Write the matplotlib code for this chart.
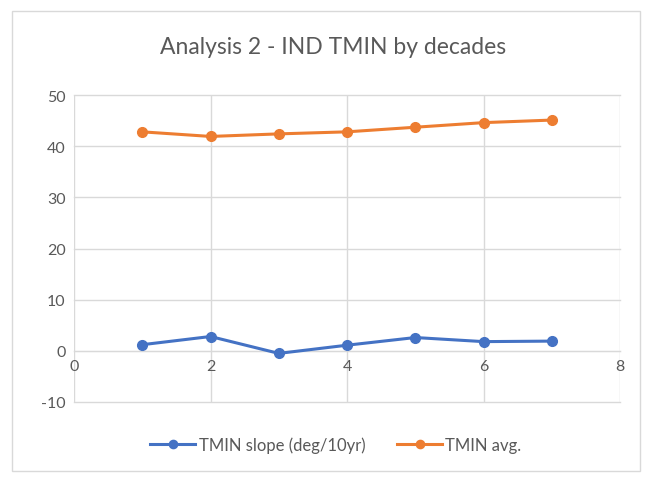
import numpy as np
import matplotlib.pyplot as plt
from matplotlib.patches import Rectangle

# decade index and values
decade = [1, 2, 3, 4, 5, 6, 7]
tmin_slope = [1.2, 2.8, -0.5, 1.1, 2.6, 1.8, 1.9]
tmin_avg = [42.8, 41.9, 42.4, 42.8, 43.7, 44.6, 45.1]

plt.rcParams['font.family'] = ['Lato', 'DejaVu Sans']
plt.rcParams['axes.unicode_minus'] = False

fig = plt.figure(figsize=(6.53, 4.81), dpi=100)
fig.patches.append(Rectangle((12/653, 1-472/481), 628/653, 460/481,
                             transform=fig.transFigure, fill=False,
                             edgecolor='#d9d9d9', linewidth=1))

ax = fig.add_axes([74/653, 1-403/481, 546/653, 307/481])

ax.plot(decade, tmin_slope, color='#4472C4', marker='o', markersize=7,
        linewidth=2.2, label='TMIN slope (deg/10yr)', zorder=3)
ax.plot(decade, tmin_avg, color='#ED7D31', marker='o', markersize=7,
        linewidth=2.2, label='TMIN avg.', zorder=3)

ax.set_xlim(0, 8)
ax.set_ylim(-10, 50)
ax.set_xticks(range(0, 9, 2))
ax.set_yticks(range(-10, 51, 10))
ax.grid(True, color='#d9d9d9', linewidth=1)
ax.set_axisbelow(True)
for gl in ax.get_xgridlines() + ax.get_ygridlines():
    gl.set_clip_on(False)

for s in ['top', 'right', 'left']:
    ax.spines[s].set_visible(False)
ax.spines['bottom'].set_position(('data', 0))
ax.spines['bottom'].set_color('#d9d9d9')
ax.tick_params(length=0, labelsize=11.5, labelcolor='#595959', pad=6)

fig.text(333/653, 1-48/481, 'Analysis 2 - IND TMIN by decades', ha='center',
         va='center', fontsize=16.5, color='#595959')

fig.legend(loc='center', bbox_to_anchor=(336/653, 1-446/481), ncol=2,
           frameon=False, fontsize=12, labelcolor='#595959',
           handlelength=2.7, handletextpad=0.2, columnspacing=1.9,
           markerscale=0.85)

plt.savefig('out.png', dpi=100)
